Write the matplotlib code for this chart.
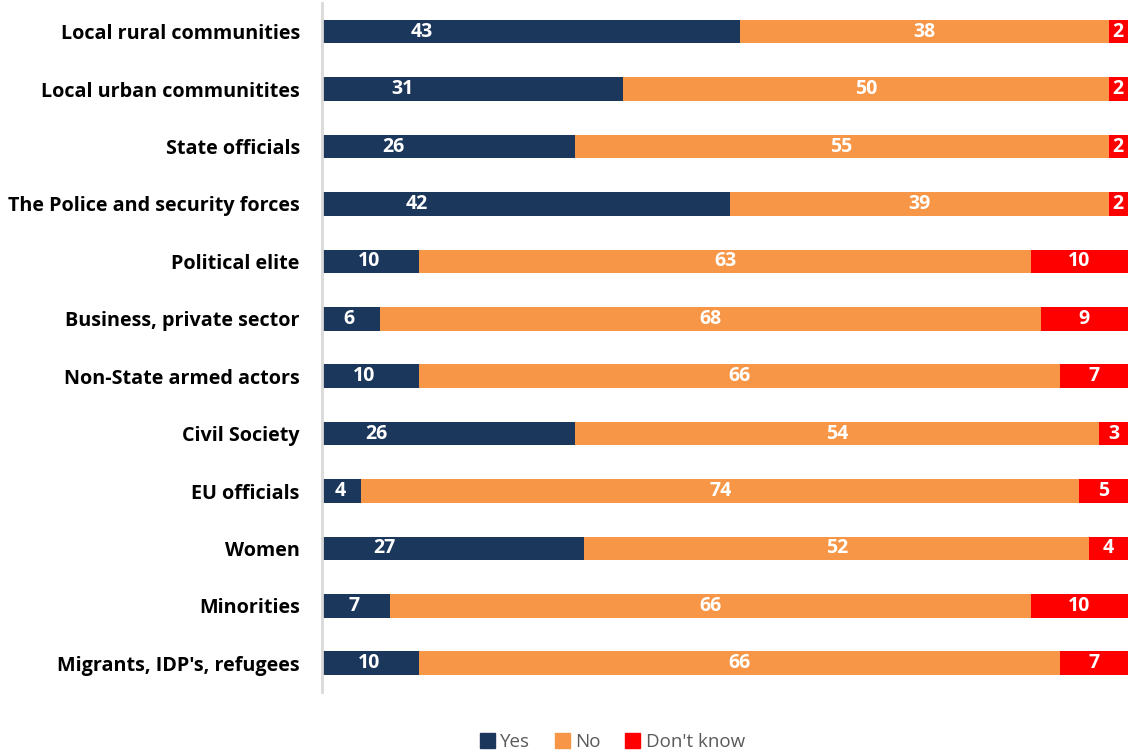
import numpy as np
import matplotlib
matplotlib.use("Agg")
import matplotlib.pyplot as plt
from matplotlib.patches import Patch

plt.rcParams['font.family'] = ['Open Sans', 'DejaVu Sans']

categories = [
    "Local rural communities",
    "Local urban communitites",
    "State officials",
    "The Police and security forces",
    "Political elite",
    "Business, private sector",
    "Non-State armed actors",
    "Civil Society",
    "EU officials",
    "Women",
    "Minorities",
    "Migrants, IDP's, refugees",
]
yes = [43, 31, 26, 42, 10, 6, 10, 26, 4, 27, 7, 10]
no = [38, 50, 55, 39, 63, 68, 66, 54, 74, 52, 66, 66]
dont_know = [2, 2, 2, 2, 10, 9, 7, 3, 5, 4, 10, 7]

# where the "Yes" numbers sit along the bar (they were nudged by hand)
yes_label_x = [10.3, 8.3, 7.3, 9.8, 4.8, 2.8, 4.3, 5.6, 1.85, 6.4, 3.3, 4.8]

c_yes = "#1b375c"
c_no = "#f79646"
c_dk = "#ff0000"

fig = plt.figure(figsize=(11.28, 7.55), dpi=100)
ax = fig.add_axes([0.2855, 0.0835, 0.7145, 0.9125])

for s in ["top", "right", "bottom"]:
    ax.spines[s].set_visible(False)
ax.spines["left"].set_color("#d9d9d9")
ax.spines["left"].set_linewidth(2)

y = np.arange(len(categories))
yes_a = np.array(yes)
no_a = np.array(no)
dk_a = np.array(dont_know)
h = 0.41

ax.barh(y, yes_a, height=h, color=c_yes, label="Yes")
ax.barh(y, no_a, left=yes_a, height=h, color=c_no, label="No")
ax.barh(y, dk_a, left=yes_a + no_a, height=h, color=c_dk, label="Don't know")

lbl = dict(color="white", fontsize=14, fontweight="bold", ha="center", va="center")
for i in range(len(categories)):
    ax.text(yes_label_x[i], y[i], str(yes[i]), **lbl)
    ax.text(yes[i] + no[i] / 2, y[i], str(no[i]), **lbl)
    ax.text(yes[i] + no[i] + dont_know[i] / 2, y[i], str(dont_know[i]), **lbl)

ax.set_xlim(0, 83)
ax.set_ylim(len(categories) - 0.5, -0.5)
ax.tick_params(axis="y", length=0, pad=16)
ax.set_xticks([])
ax.set_yticks(y)
ax.set_yticklabels(categories, fontsize=14.2, fontweight="bold", color="black")

handles = [Patch(color=c_yes, label="Yes"), Patch(color=c_no, label="No"),
           Patch(color=c_dk, label="Don't know")]
fig.legend(handles=handles, loc="center", bbox_to_anchor=(0.5428, 0.017),
           ncol=3, frameon=False, fontsize=13.5, labelcolor="#595959",
           handlelength=0.8, handleheight=0.8, handletextpad=0.3,
           columnspacing=1.3)

fig.savefig("out.png", dpi=100, facecolor="white")
